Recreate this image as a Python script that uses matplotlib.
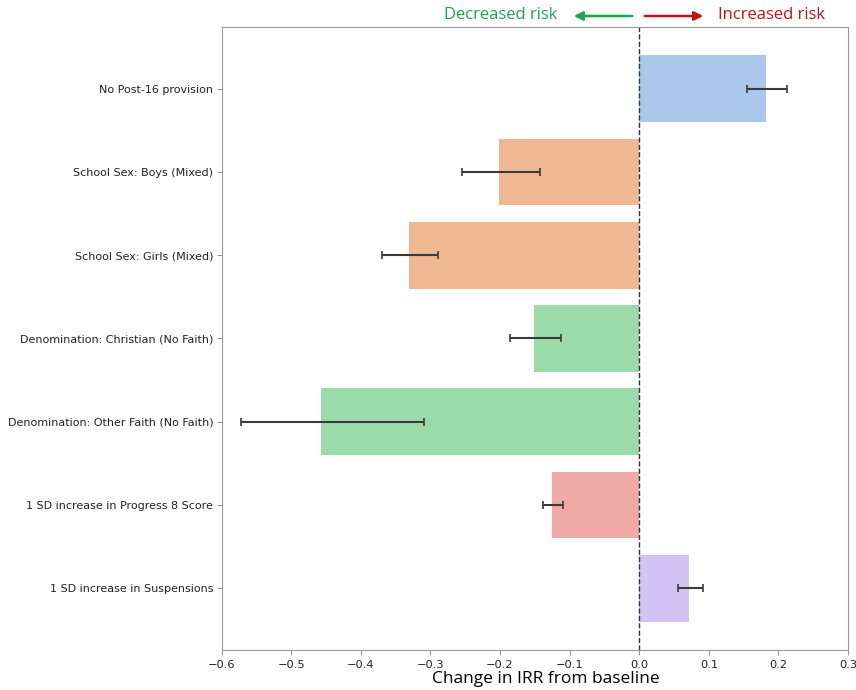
import matplotlib.pyplot as plt

labels = [
    "No Post-16 provision",
    "School Sex: Boys (Mixed)",
    "School Sex: Girls (Mixed)",
    "Denomination: Christian (No Faith)",
    "Denomination: Other Faith (No Faith)",
    "1 SD increase in Progress 8 Score",
    "1 SD increase in Suspensions",
]
change = [0.182, -0.202, -0.330, -0.151, -0.457, -0.125, 0.072]
ci_low = [0.155, -0.254, -0.369, -0.185, -0.572, -0.138, 0.056]
ci_high = [0.213, -0.142, -0.289, -0.113, -0.309, -0.109, 0.091]
colors = ["#abc8ea", "#efb792", "#efb792", "#9adba9", "#9adba9", "#f0aaa6", "#d1c4f5"]

fig = plt.figure(figsize=(8.56, 6.90), dpi=100)
ax = fig.add_axes([0.2588, 0.058, 0.7319, 0.9029])

ypos = list(range(len(labels)))
ax.barh(ypos, change, height=0.8, color=colors)
for y, lo, hi in zip(ypos, ci_low, ci_high):
    ax.errorbar((lo + hi) / 2, y, xerr=[[(hi - lo) / 2], [(hi - lo) / 2]],
                fmt="none", ecolor="#3a3a3a", elinewidth=1.5, capsize=3, capthick=1.2)

ax.axvline(0, color="#333333", linestyle="--", linewidth=1)
ax.set_yticks(ypos)
ax.set_yticklabels(labels, fontsize=8.0, color="#222222")
ax.tick_params(axis="y", pad=2.5)
ax.invert_yaxis()
ax.set_xlim(-0.6, 0.3)
ax.set_xticks([-0.6, -0.5, -0.4, -0.3, -0.2, -0.1, 0.0, 0.1, 0.2, 0.3])
ax.tick_params(axis="x", labelsize=8.2, colors="#222222")
for s in ax.spines.values():
    s.set_color("#999999")
ax.tick_params(color="#999999")

fig.text(546 / 856, 1 - 679 / 690, "Change in IRR from baseline", fontsize=12.5,
         family="Open Sans", ha="center", va="center")

# direction-of-effect annotations above the plot
green = "#1aa64a"
red = "#c01515"
fig.text(501 / 856, 1 - 15 / 690, "Decreased risk", color=green, fontsize=12,
         family="Open Sans", ha="center", va="center")
fig.text(771 / 856, 1 - 15 / 690, "Increased risk", color=red, fontsize=12,
         family="Open Sans", ha="center", va="center")
ax.annotate("", xy=(571 / 856, 1 - 16 / 690), xytext=(635 / 856, 1 - 16 / 690),
            xycoords="figure fraction", textcoords="figure fraction",
            arrowprops=dict(arrowstyle="-|>", color=green, lw=1.8, mutation_scale=13),
            annotation_clip=False)
ax.annotate("", xy=(706 / 856, 1 - 16 / 690), xytext=(642 / 856, 1 - 16 / 690),
            xycoords="figure fraction", textcoords="figure fraction",
            arrowprops=dict(arrowstyle="-|>", color=red, lw=1.8, mutation_scale=13),
            annotation_clip=False)

fig.savefig("out.png", dpi=100)
